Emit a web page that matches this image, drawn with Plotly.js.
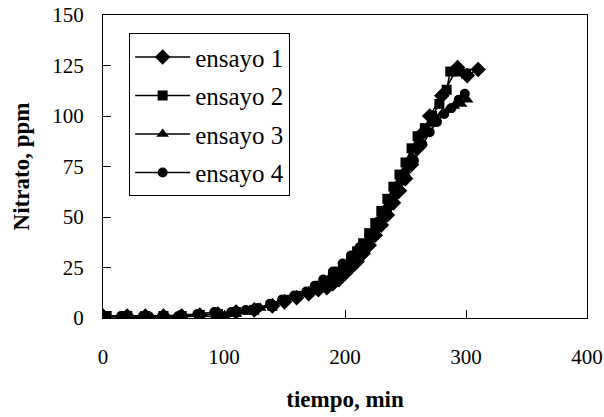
<!DOCTYPE html>
<html>
<head>
<meta charset="utf-8">
<script src="https://cdn.plot.ly/plotly-3.0.1.min.js"></script>
<style>html,body{margin:0;padding:0;background:#fff;}#chart{width:604px;height:417px;}</style>
</head>
<body>
<div id="chart"></div>
<script>
const seriesNames = ["ensayo 1", "ensayo 2", "ensayo 3", "ensayo 4"];

const x1 = [0, 20, 35, 50, 65, 80, 95, 110, 125, 140, 150, 160, 170, 178, 185, 190, 195, 200, 205, 210, 215, 220, 225, 230, 235, 240, 245, 250, 255, 260, 265, 270, 280, 293, 301, 310];
const y1 = [1, 1, 1, 1, 1, 1.5, 2, 3, 4, 6, 8, 10, 12, 14, 15, 17, 19, 22, 25, 28, 32, 36, 41, 46, 51, 57, 63, 69, 76, 84, 92, 100, 110, 124, 120, 123];

const x2 = [3, 20, 35, 50, 65, 80, 95, 110, 125, 140, 150, 160, 170, 180, 185, 190, 195, 200, 205, 210, 215, 220, 225, 230, 235, 240, 245, 250, 255, 260, 266, 272, 278, 284, 287, 293, 300];
const y2 = [1, 1, 1, 1, 1, 1.5, 2, 3, 4, 6, 9, 11, 13, 16, 18, 20, 23, 26, 29, 33, 37, 42, 47, 53, 59, 65, 71, 77, 84, 90, 94, 100, 106, 113, 122, 122, 121];

const x3 = [0, 20, 40, 60, 80, 93, 101, 110, 120, 130, 140, 150, 160, 170, 180, 190, 200, 205, 210, 215, 220, 225, 230, 235, 240, 245, 250, 255, 260, 265, 270, 275, 280, 285, 290, 296, 301];
const y3 = [0, 0, 0.5, 0.5, 1, 0.5, 0.5, 2, 3, 5, 7, 9, 11, 13, 15, 19, 24, 27, 30, 34, 39, 44, 49, 55, 61, 67, 73, 80, 86, 92, 96, 99, 101, 103, 105, 106, 108];

const x4 = [0, 15, 33, 49, 64, 78, 92, 106, 118, 128, 138, 148, 158, 168, 175, 182, 190, 198, 205, 212, 220, 228, 235, 242, 250, 257, 264, 270, 276, 282, 288, 294, 299];
const y4 = [1, 1, 1, 1, 1.5, 2, 3, 3, 4, 5, 7, 9, 11, 13, 16, 19, 23, 27, 31, 35, 41, 48, 54, 61, 70, 78, 86, 92, 97, 101, 104, 108, 111];

const xTicks = [0, 100, 200, 300, 400];
const yTicks = [0, 25, 50, 75, 100, 125, 150];

const xs = [x1, x2, x3, x4];
const ys = [y1, y2, y3, y4];
const symbols = ["diamond", "square", "triangle-up", "circle"];
const sizes = [12, 10, 11, 10];

const traces = seriesNames.map((n, i) => ({
  type: "scatter",
  mode: "lines+markers",
  name: n,
  legendgroup: "g" + i,
  x: xs[i],
  y: ys[i],
  line: {color: "#000", width: 1.5},
  marker: {symbol: symbols[i], size: sizes[i], color: "#000", line: {width: 0}}
}));

const font = "Liberation Serif";

const layout = {
  width: 604,
  height: 417,
  margin: {l: 103, r: 17, t: 15, b: 99},
  paper_bgcolor: "#fff",
  plot_bgcolor: "#fff",
  font: {family: font, color: "#000", size: 21},
  showlegend: true,
  legend: {
    x: 0.054, y: 0.94, xanchor: "left", yanchor: "top",
    bgcolor: "#fff", bordercolor: "#000", borderwidth: 1,
    font: {family: font, size: 25, color: "#000"},
    tracegroupgap: 3,
    itemwidth: 55
  },
  xaxis: {
    range: [0, 400],
    tickvals: xTicks,
    ticktext: xTicks.map(String),
    ticks: "inside", ticklen: 8, tickcolor: "#000",
    showline: true, linecolor: "#000", linewidth: 1, mirror: true,
    showgrid: false, zeroline: false,
    ticklabelstandoff: 20,
    tickfont: {family: font, size: 21},
    title: {text: "<b>tiempo, min</b>", font: {family: font, size: 23}, standoff: 22}
  },
  yaxis: {
    range: [0, 150],
    tickvals: yTicks,
    ticktext: yTicks.map(String),
    ticks: "inside", ticklen: 8, tickcolor: "#000",
    showline: true, linecolor: "#000", linewidth: 1, mirror: true,
    showgrid: false, zeroline: false,
    ticklabelstandoff: 14,
    tickfont: {family: font, size: 21},
    title: {text: "<b>Nitrato, ppm</b>", font: {family: font, size: 23}, standoff: 16}
  }
};

Plotly.newPlot("chart", traces, layout, {displayModeBar: false, staticPlot: true});
</script>
</body>
</html>
